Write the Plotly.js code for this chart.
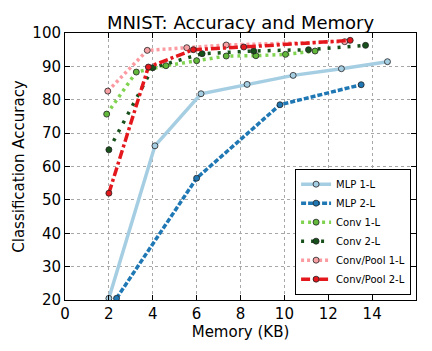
<!DOCTYPE html>
<html>
<head>
<meta charset="utf-8">
<script src="https://cdn.plot.ly/plotly-3.0.1.min.js"></script>
<style>
  html, body { margin: 0; padding: 0; background: #fff; }
  #chart { width: 432px; height: 351px; }
</style>
</head>
<body>
<div id="chart"></div>
<script>
// memory in KB, accuracy in %
const mlp1Mem = [2.0, 4.1, 6.2, 8.3, 10.4, 12.6, 14.7];
const mlp1Acc = [20.5, 66.2, 81.8, 84.6, 87.3, 89.3, 91.4];

const mlp2Mem = [2.35, 6.0, 9.8, 13.5];
const mlp2Acc = [20.5, 56.5, 78.5, 84.5];

const conv1Mem = [1.9, 3.25, 4.6, 6.0, 7.35, 8.7, 10.05, 11.4];
const conv1Acc = [75.7, 88.3, 90.2, 91.7, 93.1, 93.2, 93.6, 94.6];

const conv2Mem = [2.0, 4.0, 6.25, 8.6, 11.1, 13.7];
const conv2Acc = [65.0, 89.6, 93.8, 94.6, 95.0, 96.3];

const pool1Mem = [1.95, 3.75, 5.55, 7.35, 12.75];
const pool1Acc = [82.6, 94.8, 95.6, 96.4, 97.4];

const pool2Mem = [2.0, 3.8, 5.85, 8.15, 13.0];
const pool2Acc = [52.0, 89.8, 95.0, 95.8, 97.8];

const xTicks = [0, 2, 4, 6, 8, 10, 12, 14];
const yTicks = [20, 30, 40, 50, 60, 70, 80, 90, 100];

function series(name, x, y, color, markColor, dash, width) {
  return {
    x: x, y: y, name: name,
    type: "scatter",
    mode: "lines+markers",
    line: { color: color, width: width, dash: dash },
    marker: { size: 6, color: markColor, line: { color: "#222", width: 0.8 } },
  };
}

const traces = [
  series("MLP 1-L", mlp1Mem, mlp1Acc, "#a6cee3", "#a6cee3", "solid", 3.5),
  series("MLP 2-L", mlp2Mem, mlp2Acc, "#1f78b4", "#1f78b4", "5px,2px", 3.5),
  series("Conv 1-L", conv1Mem, conv1Acc, "#7fd34e", "#62b83a", "3px,4px", 3.5),
  series("Conv 2-L", conv2Mem, conv2Acc, "#17501a", "#17501a", "3px,7px", 3.5),
  series("Conv/Pool 1-L", pool1Mem, pool1Acc, "#fb9aa0", "#f7a0a4", "3px,3px", 3.5),
  series("Conv/Pool 2-L", pool2Mem, pool2Acc, "#e3171c", "#e3171c", "9px,3px,3px,3px", 3.5),
];

const axisBase = {
  showline: true, mirror: "ticks", linecolor: "#000", linewidth: 1,
  ticks: "inside", ticklen: 5, tickcolor: "#000",
  showgrid: true, gridcolor: "#a8a8a8", griddash: "dot", gridwidth: 1,
  zeroline: false,
  tickfont: { family: "DejaVu Sans", size: 15, color: "#000" },
};

const layout = {
  width: 432, height: 351,
  margin: { l: 65, r: 16, t: 33, b: 51 },
  paper_bgcolor: "#fff", plot_bgcolor: "#fff",
  font: { family: "DejaVu Sans", color: "#000" },
  title: {
    text: "MNIST: Accuracy and Memory", font: { size: 18 },
    xref: "paper", x: 0.5, xanchor: "center",
    yref: "paper", y: 1, yanchor: "bottom", pad: { b: 4 },
  },
  showlegend: true,
  legend: {
    x: 0.986, y: 0.02, xanchor: "right", yanchor: "bottom",
    bgcolor: "#fff", bordercolor: "#000", borderwidth: 1,
    font: { size: 10 }, tracegroupgap: 0, itemwidth: 30,
  },
  xaxis: Object.assign({}, axisBase, {
    range: [0, 16], tickvals: xTicks,
    title: { text: "Memory (KB)", font: { size: 15 }, standoff: 2 },
  }),
  yaxis: Object.assign({}, axisBase, {
    range: [20, 100], tickvals: yTicks,
    title: { text: "Classification Accuracy", font: { size: 15 }, standoff: 4 },
  }),
};

Plotly.newPlot("chart", traces, layout, { displayModeBar: false, staticPlot: true });
</script>
</body>
</html>
